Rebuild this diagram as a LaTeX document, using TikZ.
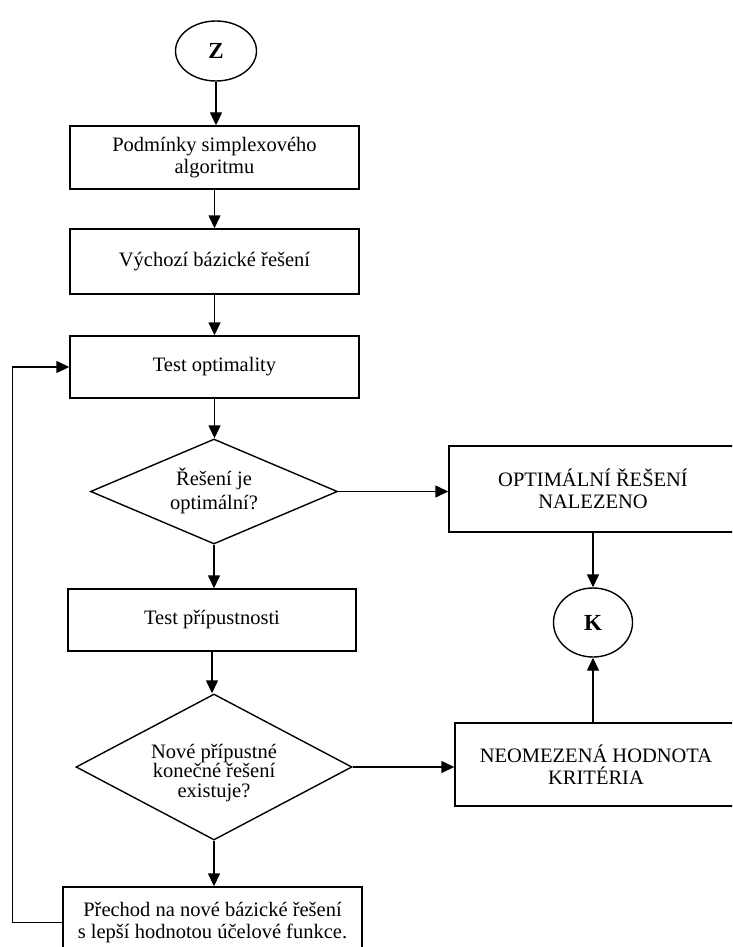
\documentclass[tikz,border=0pt]{standalone}
\usepackage{fontspec}
\setmainfont{Liberation Serif}
\usetikzlibrary{shapes.geometric,arrows.meta}
\begin{document}
\begin{tikzpicture}[x=1pt,y=-1pt,
  every node/.style={font=\fontsize{20.5}{22.5}\selectfont, align=center, inner sep=0pt},
  box/.style={draw, rectangle, line width=1.4pt},
  dia/.style={draw, diamond, line width=1.4pt},
  term/.style={draw, ellipse, line width=1.4pt, font=\fontsize{23}{26}\selectfont\bfseries},
  arr/.style={line width=1.4pt, -{Triangle[length=13pt,width=12pt]}},
  ln/.style={line width=1.4pt}]
\clip (0,0) rectangle (732,947);
\fill[white] (0,0) rectangle (732,947);

\node[term, minimum width=81pt, minimum height=60pt] (Z) at (216,51) {Z};
\node[box, minimum width=289pt, minimum height=63pt] (b1) at (214.5,157.5) {Podmínky simplexového\\algoritmu};
\node[box, minimum width=289pt, minimum height=65pt] (b2) at (214.5,261.5) {Výchozí bázické řešení};
\node[box, minimum width=289pt, minimum height=62pt] (b3) at (214.5,367) {Test optimality};
\node[dia, minimum width=247pt, minimum height=105pt] (d1) at (214,491.5) {};
\node[font=\fontsize{20.5}{24}\selectfont] (d1t) at (214,490.5) {Řešení je\\optimální?};
\node[box, minimum width=288pt, minimum height=62pt] (b4) at (212,620) {Test přípustnosti};
\node[dia, minimum width=276pt, minimum height=146pt] (d2) at (214,767) {};
\node[font=\fontsize{20.5}{19.5}\selectfont] (d2t) at (214,773) {Nové přípustné\\konečné řešení\\existuje?};
\node[box, minimum width=299pt, minimum height=71pt, font=\fontsize{20.5}{21.5}\selectfont] (b5) at (212.5,922.5) {Přechod na nové bázické řešení\\s lepší hodnotou účelové funkce.};
\node[box, minimum width=288pt, minimum height=86pt] (opt) at (593,489) {OPTIMÁLNÍ ŘEŠENÍ\\NALEZENO};
\node[term, minimum width=79pt, minimum height=69pt] (K) at (593,622.5) {K};
\node[box, minimum width=282pt, minimum height=83pt] (neo) at (596,764.5) {NEOMEZENÁ HODNOTA\\KRITÉRIA};

\draw[arr] (Z.south) -- (Z.south |- b1.north);
\draw[arr] (b1.south) -- (b1.south |- b2.north);
\draw[arr] (b2.south) -- (b2.south |- b3.north);
\draw[arr] (b3.south) -- (b3.south |- d1.north);
\draw[arr] (d1.south) -- (d1.south |- b4.north);
\draw[arr] (b4.south) -- (b4.south |- d2.north);
\draw[arr] (d2.south) -- (d2.south |- b5.north);
\draw[arr] (d1.east) -- (d1.east -| opt.west);
\draw[arr] (d2.east) -- (d2.east -| neo.west);
\draw[arr] (opt.south -| K) -- (K.north);
\draw[arr] (neo.north -| K) -- (K.south);
\draw[arr] (b5.west) -- ++(-50,0) |- (b3.west);
\end{tikzpicture}
\end{document}
